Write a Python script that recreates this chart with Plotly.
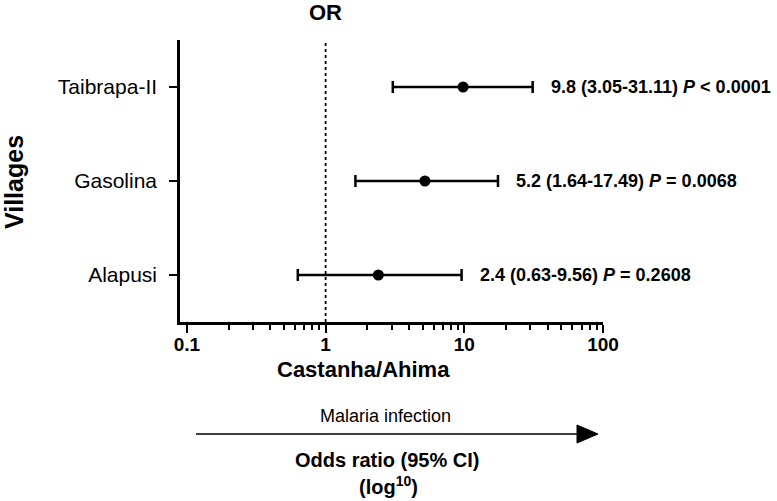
import math
import plotly.graph_objects as go

villages = ["Alapusi", "Gasolina", "Taibrapa-II"]
odds = [2.4, 5.2, 9.8]
ci_low = [0.63, 1.64, 3.05]
ci_high = [9.56, 17.49, 31.11]
p_text = ["<i>P</i> = 0.2608", "<i>P</i> = 0.0068", "<i>P</i> < 0.0001"]
x_ticks = [0.1, 1, 10, 100]
x_tick_labels = ["0.1", "1", "10", "100"]
minor_ticks = [m * d for d in (0.1, 1, 10) for m in range(2, 10)]

FONT = "Liberation Sans, Arial, sans-serif"


def px_x(px):
    return (px - 180) / 423


def px_y(py):
    return (322 - py) / 282


fig = go.Figure()

fig.add_trace(go.Scatter(
    x=odds, y=villages, mode="markers",
    marker=dict(color="black", size=11),
    error_x=dict(type="data", symmetric=False,
                 array=[h - o for h, o in zip(ci_high, odds)],
                 arrayminus=[o - l for o, l in zip(odds, ci_low)],
                 color="black", thickness=2.5, width=6),
    showlegend=False, hoverinfo="skip",
))

# reference line at OR = 1
fig.add_shape(type="line", xref="x", yref="paper", x0=1, x1=1, y0=0, y1=1,
              line=dict(color="black", width=1.8, dash="dot"))

for v, o, l, h, p in zip(villages, odds, ci_low, ci_high, p_text):
    fig.add_annotation(x=math.log10(h), y=v, xref="x", yref="y",
                       text=f"<b>{o} ({l:.2f}-{h:.2f}) {p}</b>",
                       showarrow=False, xanchor="left", yanchor="middle", xshift=16,
                       font=dict(size=18, family=FONT, color="black"))

def label(text, x, y, size, xref="paper", angle=0):
    fig.add_annotation(x=x, y=y, xref=xref, yref="paper", text=text, textangle=angle,
                       showarrow=False, xanchor="center", yanchor="middle",
                       font=dict(size=size, family=FONT, color="black"))

label("<b>OR</b>", 0, px_y(12.5), 22, xref="x")
label("<b>Villages</b>", px_x(14), px_y(182), 25, angle=-90)
label("<b>Castanha/Ahima</b>", px_x(363), px_y(369), 22)
label("Malaria infection", px_x(385), px_y(416), 18)
label("<b>Odds ratio (95% CI)</b>", px_x(387), px_y(460), 20)
label("<b>(log<sup>10</sup>)</b>", px_x(388), px_y(485), 20)

# arrow below
ay = px_y(434)
fig.add_shape(type="line", xref="paper", yref="paper",
              x0=px_x(196), x1=px_x(580), y0=ay, y1=ay,
              line=dict(color="black", width=1.5))
fig.add_shape(type="path", xref="paper", yref="paper",
              path=f"M {px_x(577)},{px_y(425)} L {px_x(598)},{ay} L {px_x(577)},{px_y(443)} Z",
              fillcolor="black", line=dict(color="black", width=1))

fig.update_layout(
    width=777, height=501,
    margin=dict(l=180, r=174, t=40, b=179),
    plot_bgcolor="white", paper_bgcolor="white",
    font=dict(family=FONT, color="black"),
    xaxis=dict(type="log", range=[-1.05, 2.0],
               tickvals=x_ticks, ticktext=[f"<b>{t}</b>" for t in x_tick_labels],
               ticks="outside", ticklen=8, tickwidth=2, tickcolor="black",
               showline=True, linewidth=2.5, linecolor="black",
               showgrid=False, zeroline=False,
               tickfont=dict(size=19, family=FONT, color="black"),
               ticklabelstandoff=-5,
               minor=dict(tickvals=minor_ticks, ticks="outside", ticklen=5,
                          tickwidth=1.5, tickcolor="black", showgrid=False)),
    yaxis=dict(type="category", categoryorder="array", categoryarray=villages,
               range=[-0.5, 2.5],
               ticks="outside", ticklen=8, tickwidth=2, tickcolor="black",
               showline=True, linewidth=2.5, linecolor="black",
               showgrid=False, zeroline=False,
               tickfont=dict(size=21, family=FONT, color="black"),
               ticklabelstandoff=8),
)

fig.write_html("out.html", config={"displayModeBar": False},
               post_script="document.body.style.margin='0';")
